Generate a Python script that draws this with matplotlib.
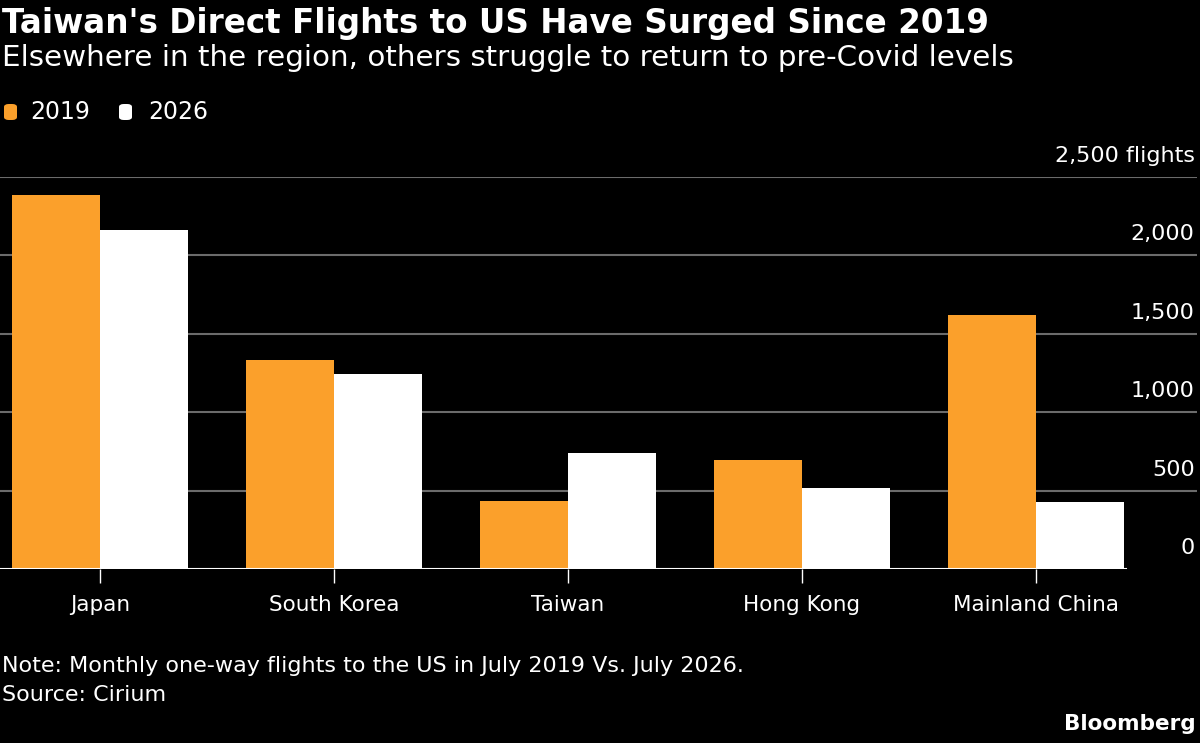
"""Taiwan's direct flights to the US, 2019 vs 2026 (Bloomberg style)."""
import matplotlib
matplotlib.use('Agg')
import matplotlib.pyplot as plt
from matplotlib.patches import FancyBboxPatch
import numpy as np

categories = ['Japan', 'South Korea', 'Taiwan', 'Hong Kong', 'Mainland China']
flights_2019 = [2388, 1335, 434, 696, 1622]
flights_2026 = [2165, 1245, 741, 517, 428]
y_ticks = [0, 500, 1000, 1500, 2000, 2500]
y_tick_labels = ['0', '500', '1,000', '1,500', '2,000', '2,500 flights']

ORANGE = '#FBA02B'
WHITE = '#FFFFFF'
GRID = '#6B6B6B'
plt.rcParams['font.family'] = ['DejaVu Sans']

W, H = 1200, 743
fig = plt.figure(figsize=(W / 100, H / 100), dpi=100, facecolor='black')
ax = fig.add_axes([0.0, 0.2342, 0.9975, 0.5276], facecolor='black')

x = np.arange(len(categories))
width = 0.376
ax.bar(x - width / 2, flights_2019, width, color=ORANGE, zorder=3)
ax.bar(x + width / 2, flights_2026, width, color=WHITE, zorder=3)

ax.set_xlim(-0.427, 4.688)
ax.set_ylim(0, 2500)
for s in ax.spines.values():
    s.set_visible(False)

# gridlines and labels sitting above them on the right
for val in y_ticks[1:]:
    ax.axhline(val, color=GRID, linewidth=1.5, zorder=1)
for val, lab in zip(y_ticks, y_tick_labels):
    ax.text(0.998, val + 70, lab, transform=ax.get_yaxis_transform(),
            ha='right', va='bottom', color='white', fontsize=16)
ax.set_yticks([])

# baseline only under the bars
x_end = (len(categories) - 1 + width - (-0.427)) / (4.688 - (-0.427))
ax.axhline(0, xmin=0, xmax=x_end + 0.002, color='white', linewidth=1.5, zorder=4)

ax.set_xticks(x)
ax.set_xticklabels(categories, fontsize=15.5, color='white')
ax.tick_params(axis='x', length=10, width=1, color='white', pad=9)

fig.text(0.002, 0.968, "Taiwan's Direct Flights to US Have Surged Since 2019",
         fontsize=23.5, fontweight='bold', color='white', va='center')
fig.text(0.002, 0.922, 'Elsewhere in the region, others struggle to return to pre-Covid levels',
         fontsize=21.2, color='white', va='center')

# legend: rounded swatches
for x0, col in [(4, ORANGE), (119, WHITE)]:
    fig.patches.append(FancyBboxPatch((x0 / W, 1 - 120 / H), 13 / W, 16 / H,
                                      boxstyle='round,pad=0,rounding_size=0.004',
                                      transform=fig.transFigure, facecolor=col,
                                      edgecolor='none'))
fig.text(30 / W, 1 - 112 / H, '2019', fontsize=17, color='white', va='center')
fig.text(148 / W, 1 - 112 / H, '2026', fontsize=17, color='white', va='center')

fig.text(0.002, 0.104, 'Note: Monthly one-way flights to the US in July 2019 Vs. July 2026.',
         fontsize=16, color='white', va='center')
fig.text(0.002, 0.065, 'Source: Cirium', fontsize=16, color='white', va='center')
fig.text(0.996, 0.025, 'Bloomberg', fontsize=15.5, fontweight='bold', color='white',
         ha='right', va='center')

fig.savefig('out.png', dpi=100, facecolor='black')
